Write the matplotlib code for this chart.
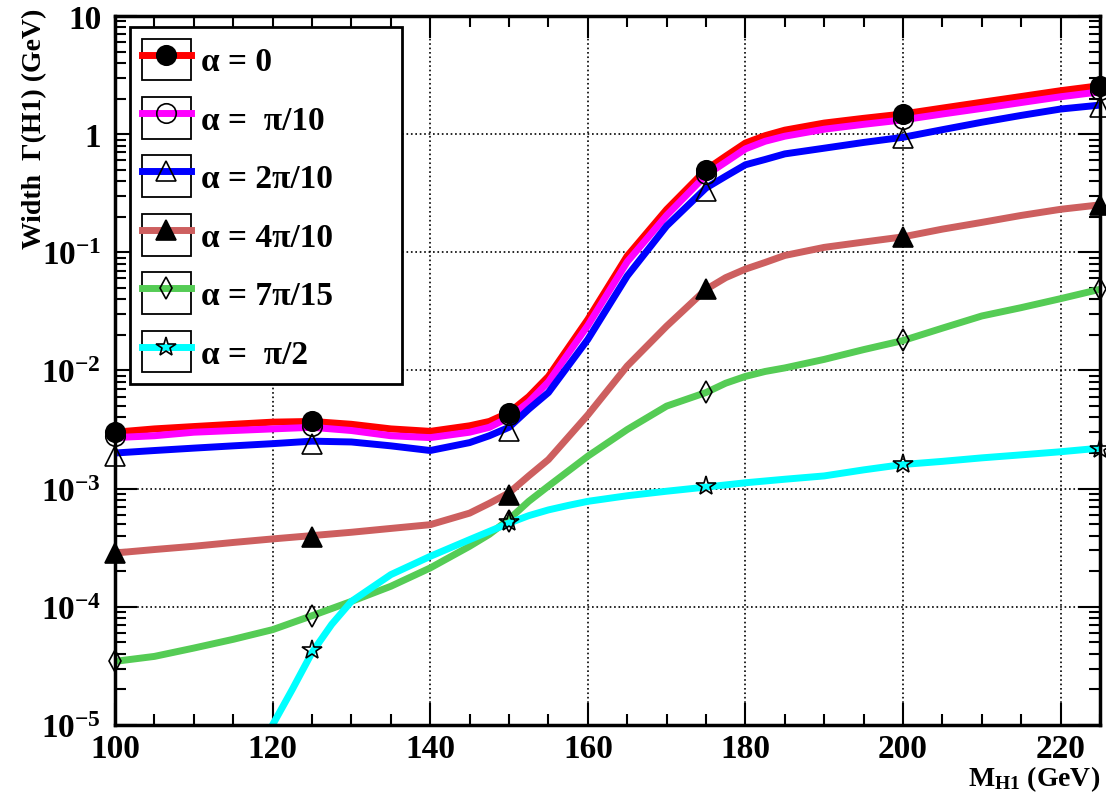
import math
import matplotlib
matplotlib.use('Agg')
from matplotlib import pyplot as plt
from matplotlib.legend_handler import HandlerLine2D
from matplotlib.patches import Rectangle
from matplotlib.ticker import MultipleLocator, FixedLocator, NullFormatter, FuncFormatter

plt.rcParams['font.family'] = ['Liberation Serif', 'DejaVu Serif']
plt.rcParams['font.weight'] = 'bold'
plt.rcParams['mathtext.fontset'] = 'custom'
plt.rcParams['mathtext.rm'] = 'Liberation Serif:bold'
plt.rcParams['mathtext.it'] = 'Liberation Serif:bold'
plt.rcParams['mathtext.bf'] = 'Liberation Serif:bold'

# marker positions (GeV)
mass = [100, 125, 150, 175, 200, 225]
# curve sample positions (GeV)
mass_curve = [100, 105, 110, 115, 120, 125, 130, 135, 140, 145,
              147.5, 150, 152.5, 155,
              160, 165, 170, 175,
              177.5, 180, 182.5, 185,
              190, 195, 200, 205, 210, 215, 220, 225]
mass_curve_pi2 = [119, 122.5, 125, 127.5, 130, 135, 140, 145, 150, 152.5, 155,
                  157.5, 160, 165, 170, 175, 180, 185, 190, 195, 200, 205, 210,
                  215, 220, 225]

# widths (GeV) at the markers
w_a0 = [0.0030, 0.0037, 0.0044, 0.50, 1.48, 2.57]
w_a1 = [0.0028, 0.0034, 0.0042, 0.46, 1.35, 2.35]
w_a2 = [0.0019, 0.0024, 0.0031, 0.33, 0.92, 1.70]
w_a4 = [2.85e-4, 3.9e-4, 8.8e-4, 4.9e-2, 0.135, 0.25]
w_a7 = [3.45e-5, 8.4e-5, 5.3e-4, 6.6e-3, 1.8e-2, 4.9e-2]
w_pi2 = [None, 4.3e-5, 5.2e-4, 1.05e-3, 1.62e-3, 2.15e-3]

# widths (GeV) along the smooth curves
c_a0 = [0.0030, 0.0032, 0.00335, 0.0035, 0.00365, 0.0037, 0.0035, 0.0032, 0.00305, 0.0034,
        0.0037, 0.0044, 0.0060, 0.0089,
        0.027, 0.093, 0.23, 0.50,
        0.65, 0.84, 0.97, 1.08,
        1.24, 1.36, 1.48, 1.66, 1.86, 2.08, 2.33, 2.57]
c_a1 = [0.0027, 0.0028, 0.0030, 0.0031, 0.0032, 0.0033, 0.0031, 0.0028, 0.0027, 0.0030,
        0.0033, 0.0040, 0.0054, 0.0080,
        0.024, 0.083, 0.205, 0.45,
        0.58, 0.75, 0.87, 0.96,
        1.10, 1.21, 1.32, 1.48, 1.65, 1.85, 2.07, 2.28]
c_a2 = [0.0020, 0.0021, 0.0022, 0.0023, 0.0024, 0.00252, 0.00248, 0.0023, 0.0021, 0.00245,
        0.0028, 0.0033, 0.0047, 0.0065,
        0.0183, 0.063, 0.167, 0.35,
        0.44, 0.55, 0.61, 0.68,
        0.76, 0.85, 0.94, 1.09, 1.26, 1.44, 1.63, 1.76]
c_a4 = [2.85e-4, 3.05e-4, 3.25e-4, 3.5e-4, 3.75e-4, 4.0e-4, 4.27e-4, 4.6e-4, 4.95e-4, 6.2e-4,
        7.5e-4, 9.2e-4, 1.28e-3, 1.76e-3,
        4.2e-3, 1.09e-2, 2.37e-2, 4.85e-2,
        6.1e-2, 7.2e-2, 8.2e-2, 9.4e-2,
        0.11, 0.122, 0.135, 0.157, 0.179, 0.205, 0.231, 0.252]
c_a7 = [3.45e-5, 3.8e-5, 4.47e-5, 5.3e-5, 6.4e-5, 8.4e-5, 1.11e-4, 1.49e-4, 2.13e-4, 3.25e-4,
        4.1e-4, 5.5e-4, 7.8e-4, 1.05e-3,
        1.88e-3, 3.16e-3, 4.99e-3, 6.5e-3,
        7.8e-3, 8.9e-3, 9.8e-3, 1.05e-2,
        1.24e-2, 1.5e-2, 1.79e-2, 2.28e-2, 2.89e-2, 3.4e-2, 4.05e-2, 4.86e-2]
c_pi2 = [7.6e-6, 2.0e-5, 4.1e-5, 7.1e-5, 1.11e-4, 1.87e-4, 2.67e-4, 3.7e-4, 5.1e-4, 5.9e-4,
         6.6e-4, 7.2e-4, 7.8e-4, 8.7e-4, 9.5e-4, 1.03e-3, 1.12e-3, 1.2e-3, 1.28e-3,
         1.44e-3, 1.6e-3, 1.7e-3, 1.82e-3, 1.93e-3, 2.05e-3, 2.2e-3]

labels = ['α = 0', 'α =  π/10', 'α = 2π/10', 'α = 4π/10', 'α = 7π/15', 'α =  π/2']

y_major = [1e-5, 1e-4, 1e-3, 1e-2, 1e-1, 1, 10]
y_minor = [m * d for d in y_major[:-1] for m in range(2, 10)]


class BoxedHandler(HandlerLine2D):
    # legend sample with a small box around it, like the ROOT original
    def create_artists(self, legend, orig_handle, xdescent, ydescent,
                       width, height, fontsize, trans):
        arts = super().create_artists(legend, orig_handle, xdescent, ydescent,
                                      width, height, fontsize, trans)
        box = Rectangle((-xdescent, -ydescent), width, height,
                        fill=False, ec='black', lw=1.3, transform=trans)
        return [box] + list(arts)


fig = plt.figure(figsize=(11.06, 8.03), dpi=100)
ax = fig.add_axes([0.104, 0.096, 0.8906, 0.8829])

series = [
    (mass_curve, c_a0, w_a0, 'red', 'o', 'black', 'black'),
    (mass_curve, c_a1, w_a1, 'magenta', 'o', 'none', 'black'),
    (mass_curve, c_a2, w_a2, 'blue', '^', 'none', 'black'),
    (mass_curve, c_a4, w_a4, '#cd5f5f', '^', 'black', 'black'),
    (mass_curve, c_a7, w_a7, '#55cc55', 'd', 'none', 'black'),
    (mass_curve_pi2, c_pi2, w_pi2, '#00ffff', '*', 'none', 'black'),
]
sizes = {'o': 14, '^': 14, 'd': 11, '*': 15}

handles = []
for (xc, yc, ym, col, mk, mfc, mec), lab in zip(series, labels):
    ax.plot(xc, yc, color=col, lw=5, solid_capstyle='butt',
            solid_joinstyle='round', zorder=2)
    xm = [m for m, v in zip(mass, ym) if v is not None]
    vm = [v for v in ym if v is not None]
    ax.plot(xm, vm, ls='none', marker=mk, ms=sizes[mk], mfc=mfc, mec=mec,
            mew=1.2, zorder=3, clip_on=False)
    h, = ax.plot([], [], color=col, lw=5, marker=mk, ms=sizes[mk], mfc=mfc,
                 mec=mec, mew=1.2)
    handles.append(h)

ax.set_yscale('log')
ax.set_xlim(100, 225)
ax.set_ylim(1e-5, 10)

ax.xaxis.set_major_locator(MultipleLocator(20))
ax.xaxis.set_minor_locator(MultipleLocator(5))
ax.yaxis.set_major_locator(FixedLocator(y_major))
ax.yaxis.set_minor_locator(FixedLocator(y_minor))
ax.yaxis.set_minor_formatter(NullFormatter())


def ylab(v, pos):
    if v >= 9:
        return '10'
    if 0.9 < v < 1.1:
        return '1'
    return r'$10^{%d}$' % round(math.log10(v))


ax.yaxis.set_major_formatter(FuncFormatter(ylab))

ax.tick_params(which='both', direction='in', top=True, right=True,
               labelsize=24, width=1.5)
ax.tick_params(which='major', length=16)
ax.tick_params(which='minor', length=8)
ax.tick_params(axis='x', pad=6)
ax.tick_params(axis='y', pad=10)
for lbl in ax.get_xticklabels() + ax.get_yticklabels():
    lbl.set_fontweight('bold')

ax.grid(True, which='major', ls=':', color='black', lw=1.2)
for s in ax.spines.values():
    s.set_linewidth(2.5)

ax.set_xlabel(r'M$_{\mathregular{H1}}$ (GeV)', fontsize=20, fontweight='bold',
              loc='right')
ax.xaxis.set_label_coords(1.0, -0.054)
ax.set_ylabel('Width  Γ(H1) (GeV)', fontsize=20, fontweight='bold', loc='top')
ax.yaxis.set_label_coords(-0.069, 1.012)

leg = ax.legend(handles, labels, loc='upper left',
                bbox_to_anchor=(0.0152, 0.5, 0.276, 0.4845), mode='expand',
                borderaxespad=0, fontsize=24, frameon=True, fancybox=False,
                framealpha=1, edgecolor='black', handlelength=1.47,
                handleheight=1.55, labelspacing=0.5, borderpad=0.35,
                handletextpad=0.3,
                handler_map={plt.Line2D: BoxedHandler()})
leg.get_frame().set_linewidth(2)
for t in leg.get_texts():
    t.set_fontweight('bold')

fig.savefig('out.png', dpi=100)
